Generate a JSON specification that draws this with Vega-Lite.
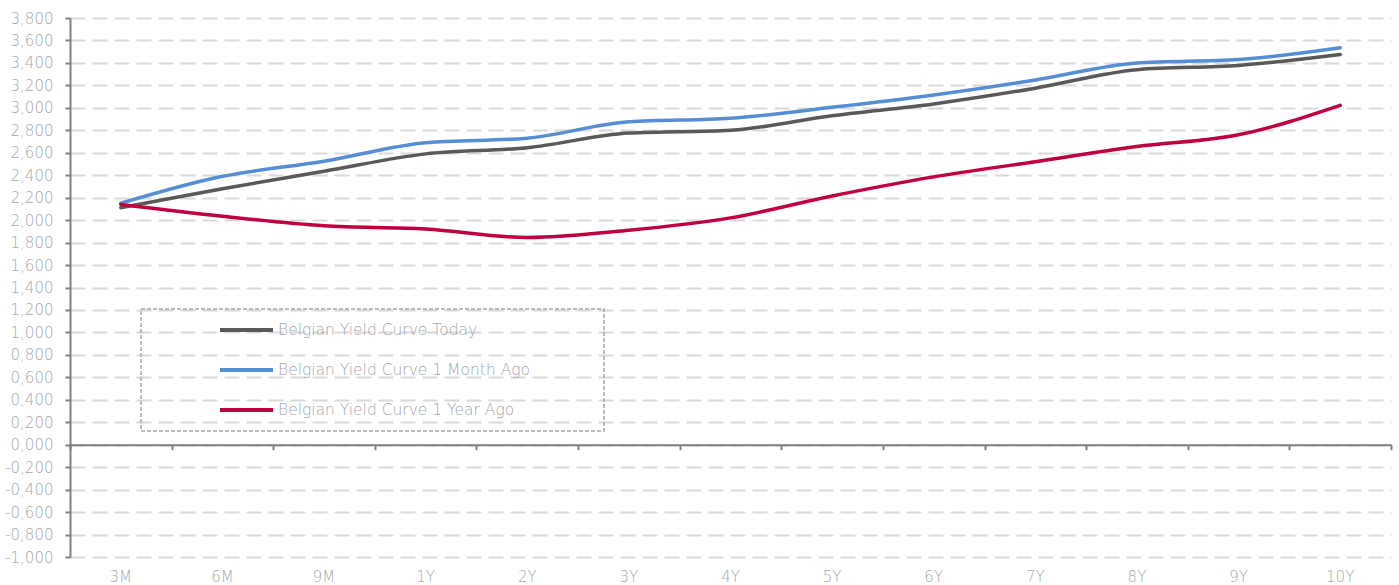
{
  "$schema": "https://vega.github.io/schema/vega-lite/v6.json",
  "width": 1321,
  "height": 539,
  "autosize": {"type": "none"},
  "padding": {"left": 70, "top": 18, "right": 8, "bottom": 28},
  "background": "white",
  "config": {
    "view": {"stroke": null},
    "font": "DejaVu Sans",
    "axis": {"labelFont": "DejaVu Sans", "labelFontWeight": 200, "labelColor": "#a3a8ae", "labelFontSize": 15}
  },
  "data": {
    "values": [
      {"tenor": "3M", "series": "Belgian Yield Curve Today", "yield": 2.11},
      {"tenor": "6M", "series": "Belgian Yield Curve Today", "yield": 2.28},
      {"tenor": "9M", "series": "Belgian Yield Curve Today", "yield": 2.435},
      {"tenor": "1Y", "series": "Belgian Yield Curve Today", "yield": 2.59},
      {"tenor": "2Y", "series": "Belgian Yield Curve Today", "yield": 2.645},
      {"tenor": "3Y", "series": "Belgian Yield Curve Today", "yield": 2.775},
      {"tenor": "4Y", "series": "Belgian Yield Curve Today", "yield": 2.8},
      {"tenor": "5Y", "series": "Belgian Yield Curve Today", "yield": 2.93},
      {"tenor": "6Y", "series": "Belgian Yield Curve Today", "yield": 3.035},
      {"tenor": "7Y", "series": "Belgian Yield Curve Today", "yield": 3.175},
      {"tenor": "8Y", "series": "Belgian Yield Curve Today", "yield": 3.34},
      {"tenor": "9Y", "series": "Belgian Yield Curve Today", "yield": 3.378},
      {"tenor": "10Y", "series": "Belgian Yield Curve Today", "yield": 3.475},
      {"tenor": "3M", "series": "Belgian Yield Curve 1 Month Ago", "yield": 2.15},
      {"tenor": "6M", "series": "Belgian Yield Curve 1 Month Ago", "yield": 2.39},
      {"tenor": "9M", "series": "Belgian Yield Curve 1 Month Ago", "yield": 2.525},
      {"tenor": "1Y", "series": "Belgian Yield Curve 1 Month Ago", "yield": 2.69},
      {"tenor": "2Y", "series": "Belgian Yield Curve 1 Month Ago", "yield": 2.73},
      {"tenor": "3Y", "series": "Belgian Yield Curve 1 Month Ago", "yield": 2.875},
      {"tenor": "4Y", "series": "Belgian Yield Curve 1 Month Ago", "yield": 2.907},
      {"tenor": "5Y", "series": "Belgian Yield Curve 1 Month Ago", "yield": 3.005},
      {"tenor": "6Y", "series": "Belgian Yield Curve 1 Month Ago", "yield": 3.115},
      {"tenor": "7Y", "series": "Belgian Yield Curve 1 Month Ago", "yield": 3.248},
      {"tenor": "8Y", "series": "Belgian Yield Curve 1 Month Ago", "yield": 3.4},
      {"tenor": "9Y", "series": "Belgian Yield Curve 1 Month Ago", "yield": 3.43},
      {"tenor": "10Y", "series": "Belgian Yield Curve 1 Month Ago", "yield": 3.535},
      {"tenor": "3M", "series": "Belgian Yield Curve 1 Year Ago", "yield": 2.14},
      {"tenor": "6M", "series": "Belgian Yield Curve 1 Year Ago", "yield": 2.035},
      {"tenor": "9M", "series": "Belgian Yield Curve 1 Year Ago", "yield": 1.95},
      {"tenor": "1Y", "series": "Belgian Yield Curve 1 Year Ago", "yield": 1.922},
      {"tenor": "2Y", "series": "Belgian Yield Curve 1 Year Ago", "yield": 1.845},
      {"tenor": "3Y", "series": "Belgian Yield Curve 1 Year Ago", "yield": 1.91},
      {"tenor": "4Y", "series": "Belgian Yield Curve 1 Year Ago", "yield": 2.02},
      {"tenor": "5Y", "series": "Belgian Yield Curve 1 Year Ago", "yield": 2.215},
      {"tenor": "6Y", "series": "Belgian Yield Curve 1 Year Ago", "yield": 2.385},
      {"tenor": "7Y", "series": "Belgian Yield Curve 1 Year Ago", "yield": 2.52},
      {"tenor": "8Y", "series": "Belgian Yield Curve 1 Year Ago", "yield": 2.655},
      {"tenor": "9Y", "series": "Belgian Yield Curve 1 Year Ago", "yield": 2.76},
      {"tenor": "10Y", "series": "Belgian Yield Curve 1 Year Ago", "yield": 3.022}
    ]
  },
  "encoding": {
    "y": {
      "field": "yield", "type": "quantitative",
      "scale": {"domain": [-1, 3.8], "nice": false, "zero": false},
      "axis": {
        "title": null,
        "values": [-1, -0.8, -0.6, -0.4, -0.2, 0, 0.2, 0.4, 0.6, 0.8, 1, 1.2, 1.4, 1.6, 1.8, 2, 2.2, 2.4, 2.6, 2.8, 3, 3.2, 3.4, 3.6, 3.8],
        "labelExpr": "replace(replace(format(datum.value, '.3f'), '.', ','), '\u2212', '-')",
        "labelOverlap": false,
        "domainColor": "#7f7f7f", "domainWidth": 2,
        "tickColor": "#7f7f7f", "tickWidth": 2, "tickSize": 5,
        "labelPadding": 12,
        "grid": true, "gridColor": "#d9d9d9", "gridWidth": 2, "gridDash": [15, 7]
      }
    }
  },
  "resolve": {"axis": {"x": "independent"}},
  "layer": [
    {
      "mark": {"type": "line", "strokeOpacity": 0},
      "encoding": {
        "x": {
          "field": "tenor", "type": "nominal", "sort": null,
          "scale": {"type": "band", "paddingInner": 0, "paddingOuter": 0},
          "axis": {
            "orient": "bottom", "title": null, "labels": false,
            "offset": -112.3, "domainColor": "#7f7f7f", "domainWidth": 2,
            "ticks": true, "tickColor": "#7f7f7f", "tickWidth": 2, "tickSize": 5,
            "tickBand": "extent", "grid": false, "zindex": 1
          }
        },
        "detail": {"field": "series"}
      }
    },
    {
      "mark": {"type": "line", "strokeWidth": 3.5, "interpolate": "monotone", "strokeCap": "round"},
      "encoding": {
        "x": {
          "field": "tenor", "type": "nominal", "sort": null,
          "axis": {
            "orient": "bottom", "title": null, "labelAngle": 0, "domain": false,
            "ticks": false, "tickSize": 0, "labelPadding": 12, "grid": false
          }
        },
        "color": {
          "field": "series", "type": "nominal",
          "scale": {
            "domain": ["Belgian Yield Curve Today", "Belgian Yield Curve 1 Month Ago", "Belgian Yield Curve 1 Year Ago"],
            "range": ["#595959", "#558ed5", "#c0003c"]
          },
          "legend": {
            "title": " ", "titleOrient": "right", "titlePadding": 64, "titleFontSize": 1,
            "orient": "none", "legendX": 71, "legendY": 291,
            "symbolType": "stroke", "symbolSize": 2809, "symbolStrokeWidth": 4,
            "symbolOffset": 67, "labelOffset": 3, "clipHeight": 22, "rowPadding": 18,
            "padding": 10, "strokeColor": "#a6a6a6",
            "labelFont": "DejaVu Sans", "labelFontWeight": 200, "labelFontSize": 15.5, "labelColor": "#a3a8ae",
            "labelLimit": 600,
            "encode": {"legend": {"update": {"strokeWidth": {"value": 1.5}, "strokeDash": {"value": [4, 2]}}}}
          }
        }
      }
    }
  ]
}
